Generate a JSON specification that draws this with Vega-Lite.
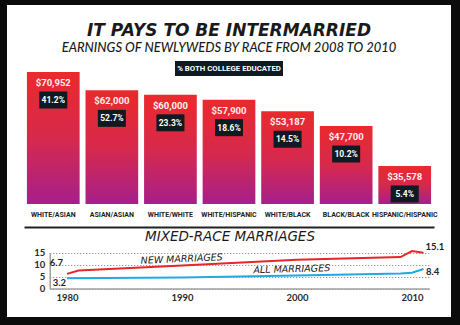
{
  "$schema": "https://vega.github.io/schema/vega-lite/v6.json",
  "width": 460,
  "height": 325,
  "autosize": {"type": "fit", "contains": "padding"},
  "padding": {"left": 7, "top": 5, "right": 9, "bottom": 8},
  "background": "#0b0b0b",
  "config": {"view": {"fill": "white", "stroke": "transparent", "strokeWidth": 0}},
  "title": {
    "text": "IT PAYS TO BE INTERMARRIED",
    "subtitle": "EARNINGS OF NEWLYWEDS BY RACE FROM 2008 TO 2010",
    "anchor": "middle",
    "offset": -51,
    "font": "DejaVu Sans",
    "fontSize": 17,
    "fontWeight": "bold",
    "fontStyle": "italic",
    "color": "#1a1a1a",
    "subtitleFont": "Lato",
    "subtitleFontSize": 13,
    "subtitleFontStyle": "italic",
    "subtitleFontWeight": 500,
    "subtitleColor": "#1a1a1a",
    "subtitlePadding": 2
  },
  "datasets": {
    "pairs": [
      {"pair": "WHITE/ASIAN", "earnings": 70952, "college": 0.412},
      {"pair": "ASIAN/ASIAN", "earnings": 62000, "college": 0.527},
      {"pair": "WHITE/WHITE", "earnings": 60000, "college": 0.233},
      {"pair": "WHITE/HISPANIC", "earnings": 57900, "college": 0.186},
      {"pair": "WHITE/BLACK", "earnings": 53187, "college": 0.145},
      {"pair": "BLACK/BLACK", "earnings": 47700, "college": 0.102},
      {"pair": "HISPANIC/HISPANIC", "earnings": 35578, "college": 0.054}
    ],
    "marriages": [
      {"series": "New marriages", "year": 1980, "pct": 6.1},
      {"series": "New marriages", "year": 1981, "pct": 7.5},
      {"series": "New marriages", "year": 1990, "pct": 9.6},
      {"series": "New marriages", "year": 2000, "pct": 12.0},
      {"series": "New marriages", "year": 2009, "pct": 13.1},
      {"series": "New marriages", "year": 2010, "pct": 15.6},
      {"series": "New marriages", "year": 2011, "pct": 14.9},
      {"series": "All marriages", "year": 1980, "pct": 4.3},
      {"series": "All marriages", "year": 1990, "pct": 4.6},
      {"series": "All marriages", "year": 2000, "pct": 5.4},
      {"series": "All marriages", "year": 2009, "pct": 6.2},
      {"series": "All marriages", "year": 2010, "pct": 6.6},
      {"series": "All marriages", "year": 2011, "pct": 8.1}
    ],
    "endlabels": [
      {"series": "New marriages", "side": "start", "year": 1980, "pct": 6.7},
      {"series": "All marriages", "side": "start", "year": 1980, "pct": 3.2},
      {"series": "New marriages", "side": "end", "year": 2011, "pct": 15.1},
      {"series": "All marriages", "side": "end", "year": 2011, "pct": 8.4}
    ],
    "serieslabels": [
      {"series": "New marriages", "label": "NEW MARRIAGES", "year": 1990, "pct": 9.6},
      {"series": "All marriages", "label": "ALL MARRIAGES", "year": 2000, "pct": 5.4}
    ]
  },
  "layer": [
    {
      "data": {"name": "pairs"},
      "encoding": {
        "x": {
          "field": "pair",
          "type": "nominal",
          "sort": null,
          "scale": {"range": [17, 427], "paddingInner": 0.1, "paddingOuter": 0.05},
          "axis": {
            "title": null,
            "orient": "bottom",
            "offset": -90,
            "ticks": false,
            "tickSize": 0,
            "labelPadding": -16.5,
            "labelBaseline": "top",
            "labelAngle": 0,
            "labelFont": "Roboto",
            "labelFontSize": 7,
            "labelFontWeight": "bold",
            "labelColor": "#222222",
            "labelOverlap": false,
            "labelLimit": 0,
            "domainColor": "#222222",
            "domainWidth": 2,
            "grid": false
          }
        },
        "y": {
          "field": "earnings",
          "type": "quantitative",
          "scale": {"type": "log", "domain": [26900, 70952], "range": [199, 67], "nice": false, "zero": false},
          "axis": null
        }
      },
      "layer": [
        {
          "mark": {
            "type": "bar",
            "color": {
              "gradient": "linear",
              "x1": 0, "y1": 0, "x2": 0, "y2": 1,
              "stops": [
                {"offset": 0, "color": "#ea2a2c"},
                {"offset": 0.5, "color": "#d7294c"},
                {"offset": 1, "color": "#a61f8b"}
              ]
            }
          },
          "encoding": {"y2": {"datum": 26900}}
        },
        {
          "mark": {
            "type": "text",
            "dy": 11,
            "font": "Roboto",
            "fontSize": 9.5,
            "fontWeight": "bold",
            "color": "#fdf0f2"
          },
          "encoding": {"text": {"field": "earnings", "type": "quantitative", "format": "$,.0f"}}
        },
        {
          "mark": {
            "type": "point",
            "shape": "M-1.65,-1H1.65V1H-1.65Z",
            "size": 289,
            "filled": true,
            "opacity": 1,
            "strokeWidth": 0,
            "color": "#0f1b22",
            "yOffset": 28
          }
        },
        {
          "mark": {
            "type": "text",
            "yOffset": 28,
            "font": "Roboto",
            "fontSize": 8.5,
            "fontWeight": "bold",
            "color": "#ffffff"
          },
          "encoding": {"text": {"field": "college", "type": "quantitative", "format": ".1%"}}
        },
        {
          "transform": [
            {"joinaggregate": [{"op": "max", "field": "earnings", "as": "top_earnings"}]},
            {"filter": "datum.pair === 'WHITE/HISPANIC'"}
          ],
          "mark": {
            "type": "point",
            "shape": "M-7.2,-1H7.2V1H-7.2Z",
            "size": 225,
            "filled": true,
            "opacity": 1,
            "strokeWidth": 0,
            "color": "#0f1b22",
            "yOffset": -3.5
          },
          "encoding": {"y": {"field": "top_earnings", "type": "quantitative"}}
        },
        {
          "transform": [
            {"joinaggregate": [{"op": "max", "field": "earnings", "as": "top_earnings"}]},
            {"filter": "datum.pair === 'WHITE/HISPANIC'"}
          ],
          "mark": {
            "type": "text",
            "yOffset": -3.5,
            "font": "Roboto",
            "fontSize": 7.8,
            "fontWeight": "bold",
            "color": "#ffffff"
          },
          "encoding": {
            "y": {"field": "top_earnings", "type": "quantitative"},
            "text": {"value": "% BOTH COLLEGE EDUCATED"}
          }
        }
      ]
    },
    {
      "encoding": {
        "x": {
          "field": "year",
          "type": "quantitative",
          "scale": {"domain": [1978.5, 2011.5], "range": [42.75, 422.25], "nice": false, "zero": false},
          "axis": {
            "title": "MIXED-RACE MARRIAGES",
            "orient": "bottom",
            "offset": -28.5,
            "values": [1980, 1990, 2000, 2010],
            "format": "d",
            "ticks": false,
            "labelPadding": 4,
            "labelFont": "Lato",
            "labelFontSize": 9.5,
            "labelFontWeight": "bold",
            "labelColor": "#2a2a2a",
            "domainColor": "#a0a0a0",
            "domainWidth": 1.5,
            "grid": false,
            "titleFont": "DejaVu Sans",
            "titleFontSize": 13.5,
            "titleFontStyle": "italic",
            "titleFontWeight": "normal",
            "titleColor": "#1a1a1a",
            "titleX": 222.5,
            "titleY": -52,
            "titleBaseline": "middle",
            "titleAlign": "center"
          }
        },
        "y": {
          "field": "pct",
          "type": "quantitative",
          "scale": {"domain": [0, 15], "range": [283.5, 247.5], "nice": false},
          "axis": {
            "title": null,
            "orient": "left",
            "offset": -42.75,
            "values": [0, 5, 10, 15],
            "ticks": false,
            "labelPadding": 5,
            "labelFont": "Lato",
            "labelFontSize": 9.5,
            "labelFontWeight": "bold",
            "labelColor": "#2a2a2a",
            "domainColor": "#a0a0a0",
            "domainWidth": 1.5,
            "grid": true,
            "gridColor": "#7a7a7a",
            "gridDash": [1, 2],
            "gridWidth": 1
          }
        }
      },
      "layer": [
        {
          "data": {"name": "marriages"},
          "mark": {"type": "line", "strokeWidth": 2},
          "encoding": {
            "color": {
              "field": "series",
              "type": "nominal",
              "scale": {"domain": ["New marriages", "All marriages"], "range": ["#e8252b", "#22a8e4"]},
              "legend": null
            }
          }
        },
        {
          "data": {"name": "endlabels"},
          "transform": [{"filter": "datum.series === 'New marriages' && datum.side === 'start'"}],
          "mark": {"type": "text", "align": "right", "dx": -4, "dy": -9.4, "font": "Lato", "fontSize": 9.5, "fontWeight": "bold", "color": "#222222"},
          "encoding": {"text": {"field": "pct", "type": "quantitative", "format": ".1f"}}
        },
        {
          "data": {"name": "endlabels"},
          "transform": [{"filter": "datum.series === 'All marriages' && datum.side === 'start'"}],
          "mark": {"type": "text", "align": "right", "dx": -1, "dy": 2.5, "font": "Lato", "fontSize": 9.5, "fontWeight": "bold", "color": "#222222"},
          "encoding": {"text": {"field": "pct", "type": "quantitative", "format": ".1f"}}
        },
        {
          "data": {"name": "endlabels"},
          "transform": [{"filter": "datum.series === 'New marriages' && datum.side === 'end'"}],
          "mark": {"type": "text", "align": "left", "dx": 2, "dy": -5.3, "font": "Lato", "fontSize": 9.5, "fontWeight": "bold", "color": "#222222"},
          "encoding": {"text": {"field": "pct", "type": "quantitative", "format": ".1f"}}
        },
        {
          "data": {"name": "endlabels"},
          "transform": [{"filter": "datum.series === 'All marriages' && datum.side === 'end'"}],
          "mark": {"type": "text", "align": "left", "dx": 2.5, "dy": 3.7, "font": "Lato", "fontSize": 9.5, "fontWeight": "bold", "color": "#222222"},
          "encoding": {"text": {"field": "pct", "type": "quantitative", "format": ".1f"}}
        },
        {
          "data": {"name": "serieslabels"},
          "transform": [{"filter": "datum.series === 'New marriages'"}],
          "mark": {"type": "text", "angle": -2.5, "dy": -6.5, "font": "DejaVu Sans", "fontSize": 9.5, "fontStyle": "italic", "color": "#222222"},
          "encoding": {"text": {"field": "label"}}
        },
        {
          "data": {"name": "serieslabels"},
          "transform": [{"filter": "datum.series === 'All marriages'"}],
          "mark": {"type": "text", "angle": -1.5, "dx": -5, "dy": -6.5, "font": "DejaVu Sans", "fontSize": 9.5, "fontStyle": "italic", "color": "#222222"},
          "encoding": {"text": {"field": "label"}}
        }
      ]
    }
  ],
  "resolve": {"scale": {"x": "independent", "y": "independent", "color": "independent"}, "axis": {"x": "independent", "y": "independent"}}
}
